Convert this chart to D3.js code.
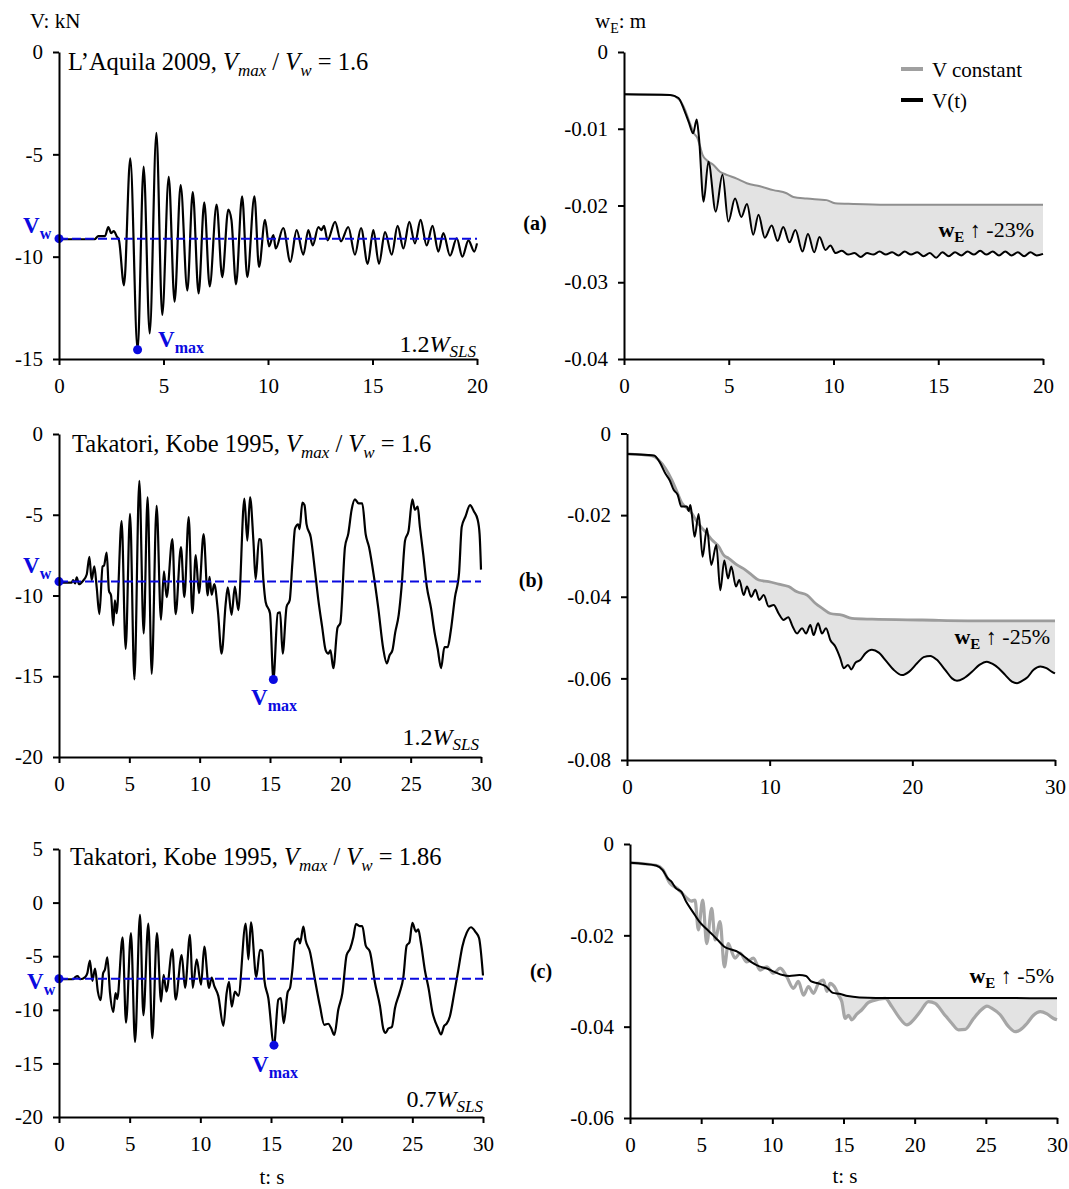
<!DOCTYPE html>
<html>
<head>
<meta charset="utf-8">
<script src="https://cdn.jsdelivr.net/npm/d3@7"></script>
<style>
  body { margin: 0; background: #fff; }
  svg { display: block; }
</style>
</head>
<body>
<svg id="chart" width="1069" height="1189"></svg>
<script>
// ---------- tick values ----------
const timeTicks20 = [0, 5, 10, 15, 20];
const timeTicks30 = [0, 5, 10, 15, 20, 25, 30];
const timeTicks30coarse = [0, 10, 20, 30];
const shearTicksA = [0, -5, -10, -15];
const shearTicksB = [0, -5, -10, -15, -20];
const shearTicksC = [5, 0, -5, -10, -15, -20];
const settleTicksA = [0, -0.01, -0.02, -0.03, -0.04];
const settleTicksB = [0, -0.02, -0.04, -0.06, -0.08];
const settleTicksC = [0, -0.02, -0.04, -0.06];

// ---------- shear force histories [t (s), V (kN)] ----------
const aquilaShear = [[0,-9.15],[1.7,-9.15],[1.88,-9.0],[2.2,-9.0],[2.36,-8.55],[2.5,-8.85],[2.62,-8.75],[2.76,-9.0],[2.87,-9.2],[3.11,-11.4],[3.41,-5.2],[3.76,-14.55],[4.05,-5.6],[4.34,-13.75],[4.66,-3.95],[4.94,-12.85],[5.25,-6.1],[5.53,-12.2],[5.82,-6.5],[6.14,-11.65],[6.4,-6.85],[6.68,-11.8],[6.95,-7.35],[7.21,-11.45],[7.54,-7.45],[7.81,-11.0],[8.1,-7.7],[8.25,-8.2],[8.47,-11.35],[8.76,-7.05],[9.01,-11.0],[9.35,-7.05],[9.57,-10.5],[9.86,-8.2],[10.05,-9.5],[10.26,-8.95],[10.37,-9.6],[10.73,-8.6],[11.07,-10.25],[11.37,-8.7],[11.69,-9.9],[11.93,-8.7],[12.14,-9.45],[12.41,-8.55],[12.55,-8.7],[12.68,-8.5],[12.85,-9.2],[13.21,-8.3],[13.49,-9.25],[13.84,-8.55],[14.16,-9.9],[14.45,-8.6],[14.77,-10.35],[15.04,-8.7],[15.31,-10.35],[15.6,-8.8],[15.92,-9.9],[16.2,-8.5],[16.48,-9.6],[16.76,-8.3],[17.03,-9.35],[17.3,-8.2],[17.59,-9.45],[17.87,-8.5],[18.15,-9.75],[18.39,-8.85],[18.71,-9.95],[19.03,-9.1],[19.3,-10.0],[19.59,-9.2],[19.87,-9.75],[20,-9.35]];

const kobeShear = [[0,-9.2],[0.9,-9.2],[1.0,-9.05],[1.15,-9.25],[1.26,-8.88],[1.42,-9.3],[1.7,-9.1],[1.97,-8.7],[2.16,-7.6],[2.32,-9.05],[2.51,-8.2],[2.68,-9.5],[2.87,-11.15],[3.1,-8.2],[3.2,-8.15],[3.39,-7.35],[3.55,-9.7],[3.7,-10.0],[3.86,-11.85],[3.97,-10.3],[4.1,-11.1],[4.45,-5.4],[4.74,-13.3],[5.05,-4.95],[5.36,-15.2],[5.71,-2.9],[6.02,-12.35],[6.3,-3.9],[6.59,-14.85],[6.94,-4.45],[7.25,-11.5],[7.46,-8.5],[7.65,-10.1],[8.06,-6.5],[8.29,-11.15],[8.67,-7.0],[8.91,-10.1],[9.22,-5.15],[9.48,-11.1],[9.72,-7.5],[9.95,-9.85],[10.28,-6.2],[10.57,-10.0],[10.7,-8.85],[10.85,-9.95],[11.04,-9.3],[11.3,-11.0],[11.56,-13.6],[11.85,-10.5],[12.0,-9.5],[12.27,-11.2],[12.5,-9.45],[12.75,-10.9],[13.18,-4.0],[13.39,-6.6],[13.58,-3.9],[13.82,-6.6],[13.98,-9.0],[14.22,-6.5],[14.35,-6.55],[14.53,-9.05],[14.69,-10.4],[15.0,-11.1],[15.24,-15.2],[15.55,-11.1],[15.72,-11.05],[15.9,-13.6],[16.18,-10.7],[16.4,-10.3],[16.59,-8.0],[16.78,-5.85],[17.0,-5.6],[17.1,-5.9],[17.3,-4.25],[17.45,-4.4],[17.6,-5.6],[17.9,-6.4],[18.2,-8.5],[18.44,-10.3],[18.7,-11.9],[18.96,-13.4],[19.15,-13.6],[19.3,-13.4],[19.5,-14.5],[19.8,-12.0],[20.0,-11.7],[20.33,-7.0],[20.57,-6.15],[20.8,-4.7],[21.04,-4.05],[21.3,-4.3],[21.56,-4.3],[21.8,-6.2],[22.04,-7.0],[22.4,-8.9],[22.7,-10.8],[23.05,-13.3],[23.3,-14.2],[23.5,-13.7],[23.7,-13.4],[23.9,-12.3],[24.15,-11.2],[24.35,-9.5],[24.6,-6.6],[24.85,-6.0],[25.12,-4.05],[25.3,-4.7],[25.5,-4.5],[25.65,-5.7],[25.9,-7.5],[26.15,-9.45],[26.45,-10.8],[26.7,-12.3],[26.92,-13.3],[27.16,-14.5],[27.4,-13.2],[27.63,-13.2],[27.85,-12.2],[28.15,-10.1],[28.44,-8.6],[28.63,-5.75],[28.9,-5.1],[29.22,-4.4],[29.5,-4.8],[29.76,-5.3],[29.9,-6.2],[30.0,-8.4]];

const kobeLightShear = [[0,-7.15],[1.0,-7.15],[1.15,-6.95],[1.32,-6.85],[1.5,-7.15],[1.85,-6.95],[2.0,-6.6],[2.19,-5.4],[2.36,-7.3],[2.55,-6.15],[2.75,-8.3],[2.95,-9.1],[3.12,-6.6],[3.25,-6.25],[3.42,-5.1],[3.61,-8.45],[3.84,-10.2],[4.0,-8.45],[4.12,-9.0],[4.5,-3.25],[4.74,-11.2],[5.09,-2.85],[5.38,-13.0],[5.73,-1.15],[5.97,-10.5],[6.32,-1.95],[6.6,-12.65],[6.93,-2.85],[7.22,-9.25],[7.4,-6.75],[7.6,-8.3],[8.02,-4.35],[8.25,-9.05],[8.68,-4.9],[8.92,-7.95],[9.27,-3.0],[9.46,-7.95],[9.74,-5.3],[10.05,-7.65],[10.28,-4.1],[10.61,-7.95],[10.8,-7.0],[10.99,-7.8],[11.27,-8.7],[11.63,-11.5],[11.86,-8.45],[12.03,-7.4],[12.22,-9.7],[12.45,-8.3],[12.69,-8.7],[13.21,-1.95],[13.4,-5.3],[13.58,-1.85],[13.96,-6.95],[14.22,-4.4],[14.38,-4.5],[14.53,-7.2],[14.81,-8.9],[15.21,-13.3],[15.52,-9.05],[15.7,-8.9],[15.9,-11.25],[16.18,-8.35],[16.35,-7.95],[16.51,-6.3],[16.7,-3.65],[16.95,-3.35],[17.05,-3.8],[17.29,-2.25],[17.45,-3.5],[17.76,-4.6],[18.11,-7.2],[18.47,-9.7],[18.77,-11.4],[19.05,-11.3],[19.25,-11.7],[19.48,-12.35],[19.76,-10.0],[20.05,-8.45],[20.35,-4.9],[20.6,-4.3],[20.83,-3.2],[21.01,-2.0],[21.3,-2.2],[21.46,-2.2],[21.7,-4.0],[22.0,-4.6],[22.36,-7.5],[22.71,-9.65],[22.95,-11.8],[23.11,-12.15],[23.3,-11.75],[23.55,-11.6],[23.77,-9.85],[24.1,-8.4],[24.36,-7.0],[24.6,-4.0],[24.8,-3.7],[25.0,-1.9],[25.25,-2.7],[25.42,-2.5],[25.6,-3.7],[25.9,-6.4],[26.15,-8.0],[26.42,-10.2],[26.65,-11.2],[26.8,-11.65],[27.03,-12.3],[27.25,-11.5],[27.43,-11.3],[27.66,-10.6],[27.97,-8.4],[28.25,-6.3],[28.54,-4.1],[28.85,-2.8],[29.15,-2.3],[29.48,-2.75],[29.72,-3.3],[30.0,-6.8]];

// static shear V_w and peak shear V_max for each record
const aquilaVw = -9.12, aquilaPeak = [3.76, -14.55];
const kobeVw = -9.14, kobePeak = [15.24, -15.2];
const kobeLightVw = -7.1, kobeLightPeak = [15.21, -13.3];

// ---------- settlement histories [t (s), w_E (m)] ----------
const aquilaConst = [[0,-0.0055],[2.2,-0.0056],[2.67,-0.0063],[2.91,-0.0075],[3.15,-0.0093],[3.34,-0.0106],[3.5,-0.0112],[3.63,-0.0123],[3.75,-0.0134],[3.95,-0.0141],[4.26,-0.0147],[4.58,-0.0156],[4.9,-0.0160],[5.38,-0.0165],[5.86,-0.0171],[6.49,-0.0175],[7.13,-0.0180],[7.76,-0.0184],[8.08,-0.0189],[8.72,-0.0191],[9.67,-0.0193],[10.07,-0.0197],[10.95,-0.0198],[12.5,-0.0199],[15.7,-0.0199],[20,-0.0199]];
const aquilaVar = [[0,-0.0055],[2.2,-0.0056],[2.6,-0.0060],[2.85,-0.0074],[3.1,-0.0092],[3.3,-0.0106],[3.47,-0.0088],[3.58,-0.0112],[3.8,-0.0195],[4.03,-0.0143],[4.38,-0.0208],[4.7,-0.0160],[4.98,-0.0221],[5.3,-0.0191],[5.6,-0.0215],[5.87,-0.0198],[6.17,-0.0238],[6.42,-0.0212],[6.72,-0.0242],[7.05,-0.0226],[7.33,-0.0246],[7.6,-0.0228],[7.9,-0.0248],[8.18,-0.0232],[8.52,-0.0260],[8.78,-0.0237],[9.08,-0.0261],[9.33,-0.0241],[9.62,-0.0258],[9.85,-0.0252],[10.1,-0.0262],[10.4,-0.0259],[10.7,-0.0264],[11.0,-0.0262],[11.3,-0.0267],[11.6,-0.0262],[11.9,-0.0264],[12.2,-0.0260],[12.5,-0.0264],[12.8,-0.0261],[13.1,-0.0265],[13.4,-0.0260],[13.7,-0.0264],[14.0,-0.0261],[14.3,-0.0266],[14.6,-0.0262],[14.9,-0.0268],[15.2,-0.0261],[15.5,-0.0266],[15.8,-0.0261],[16.1,-0.0265],[16.4,-0.0260],[16.7,-0.0264],[17.0,-0.0259],[17.3,-0.0264],[17.6,-0.0260],[17.9,-0.0265],[18.2,-0.0260],[18.5,-0.0265],[18.8,-0.0261],[19.1,-0.0266],[19.4,-0.0261],[19.7,-0.0265],[20,-0.0263]];

const kobeConst = [[0,-0.0050],[1.75,-0.0055],[2.22,-0.0065],[2.69,-0.0085],[3.15,-0.0114],[3.5,-0.0142],[3.86,-0.0171],[4.2,-0.0183],[4.56,-0.0196],[4.9,-0.0216],[5.26,-0.0232],[5.6,-0.0245],[5.96,-0.0261],[6.43,-0.0277],[6.78,-0.0298],[7.13,-0.0306],[7.71,-0.0322],[8.29,-0.0334],[8.76,-0.0347],[9.23,-0.0359],[9.93,-0.0363],[10.63,-0.0369],[11.33,-0.0375],[11.92,-0.0388],[12.62,-0.0396],[13.2,-0.0416],[13.67,-0.0428],[14.25,-0.0441],[15.07,-0.0445],[15.77,-0.0453],[17.17,-0.0455],[20.68,-0.0457],[25.35,-0.0459],[30,-0.0459]];
const kobeVar = [[0,-0.0050],[1.9,-0.0054],[2.27,-0.0069],[2.69,-0.0098],[3.0,-0.0115],[3.27,-0.0138],[3.55,-0.0150],[3.81,-0.0179],[4.2,-0.0179],[4.32,-0.0190],[4.44,-0.0175],[4.55,-0.0200],[4.74,-0.0253],[5.02,-0.0197],[5.3,-0.0302],[5.6,-0.0232],[5.91,-0.0322],[6.26,-0.0273],[6.54,-0.0384],[6.82,-0.0311],[7.08,-0.0355],[7.31,-0.0326],[7.64,-0.0375],[7.87,-0.0359],[8.18,-0.0396],[8.41,-0.0375],[8.71,-0.0400],[9.0,-0.0383],[9.28,-0.0408],[9.58,-0.0396],[9.93,-0.0424],[10.28,-0.0420],[10.63,-0.0441],[10.98,-0.0457],[11.3,-0.0450],[11.61,-0.0473],[11.92,-0.0490],[12.27,-0.0477],[12.55,-0.0490],[12.85,-0.0469],[13.08,-0.0494],[13.39,-0.0465],[13.67,-0.0490],[13.95,-0.0477],[14.25,-0.0506],[14.6,-0.0522],[14.95,-0.0551],[15.19,-0.0575],[15.49,-0.0567],[15.72,-0.0578],[16.0,-0.0562],[16.35,-0.0555],[16.7,-0.0539],[17.17,-0.0530],[17.65,-0.0537],[18.2,-0.0559],[18.69,-0.0579],[19.28,-0.0592],[19.76,-0.0584],[20.33,-0.0563],[20.79,-0.0548],[21.26,-0.0545],[21.7,-0.0554],[22.3,-0.0579],[22.78,-0.0600],[23.13,-0.0606],[23.6,-0.0600],[24.18,-0.0584],[24.7,-0.0567],[25.23,-0.0559],[25.6,-0.0564],[26.05,-0.0575],[26.52,-0.0592],[26.98,-0.0608],[27.34,-0.0612],[27.7,-0.0606],[28.05,-0.0598],[28.5,-0.0579],[28.97,-0.0571],[29.4,-0.0575],[29.79,-0.0584],[30,-0.0588]];

const kobeLightConst = [[0,-0.0041],[1.9,-0.0047],[2.3,-0.0056],[2.81,-0.0086],[3.3,-0.0097],[3.6,-0.0106],[3.98,-0.0118],[4.3,-0.0125],[4.57,-0.0123],[4.8,-0.0188],[5.11,-0.0123],[5.39,-0.0218],[5.74,-0.0141],[5.98,-0.0210],[6.33,-0.0170],[6.63,-0.0269],[6.91,-0.0218],[7.1,-0.0232],[7.38,-0.0250],[7.73,-0.0239],[8.2,-0.0258],[8.67,-0.0250],[9.14,-0.0276],[9.61,-0.0269],[10.08,-0.0283],[10.55,-0.0272],[11.0,-0.0290],[11.48,-0.0316],[11.83,-0.0301],[12.19,-0.0331],[12.54,-0.0312],[12.89,-0.0327],[13.24,-0.0305],[13.59,-0.0298],[13.83,-0.0323],[14.06,-0.0305],[14.35,-0.0312],[14.65,-0.0331],[14.88,-0.0345],[15.12,-0.0382],[15.35,-0.0375],[15.58,-0.0385],[15.95,-0.0372],[16.29,-0.0363],[16.76,-0.0347],[17.46,-0.0340],[17.93,-0.0338],[18.4,-0.0356],[18.87,-0.0378],[19.45,-0.0396],[19.92,-0.0385],[20.39,-0.0367],[20.97,-0.0345],[21.44,-0.0349],[22.03,-0.0371],[22.62,-0.0393],[23.08,-0.0407],[23.55,-0.0406],[24.14,-0.0382],[24.65,-0.0364],[25.08,-0.0355],[25.43,-0.0360],[26.01,-0.0374],[26.6,-0.0400],[27.07,-0.0411],[27.42,-0.0407],[27.89,-0.0393],[28.35,-0.0375],[28.83,-0.0367],[29.3,-0.0372],[29.76,-0.0382],[30,-0.0385]];
const kobeLightVar = [[0,-0.0041],[1.83,-0.0047],[2.3,-0.0057],[2.65,-0.0075],[2.9,-0.0082],[3.23,-0.0097],[3.5,-0.0102],[3.59,-0.0104],[3.94,-0.0126],[4.4,-0.0148],[4.87,-0.0170],[5.34,-0.0185],[5.81,-0.0199],[6.28,-0.0214],[6.63,-0.0225],[7.1,-0.0231],[7.57,-0.0236],[8.04,-0.0247],[8.5,-0.0258],[9.09,-0.0268],[9.56,-0.0272],[10.15,-0.0280],[10.73,-0.0287],[11.2,-0.0289],[11.9,-0.0287],[12.37,-0.0289],[12.73,-0.0301],[13.2,-0.0305],[13.78,-0.0312],[14.25,-0.0326],[14.72,-0.0328],[15.3,-0.0333],[16.12,-0.0336],[17.3,-0.0337],[19.64,-0.0337],[23.15,-0.0337],[30,-0.0338]];

// ---------- drawing ----------
const FONT = '"Liberation Serif", "Times New Roman", serif';
const BLUE = "#0a0ae0";
const svg = d3.select("#chart");

function makePanel(cfg) {
  const x = d3.scaleLinear().domain([0, cfg.tMax]).range([cfg.x0, cfg.x1]);
  const y = d3.scaleLinear().domain(cfg.yDomain).range([cfg.yBot, cfg.yTop]);
  return { x, y, cfg };
}

function drawAxes(p, xTicks, yTicks) {
  const c = p.cfg;
  const gx = svg.append("g").attr("transform", `translate(0,${c.yBot})`)
    .call(d3.axisBottom(p.x).tickValues(xTicks).tickFormat(d => String(d))
      .tickSize(6).tickPadding(13).tickSizeOuter(0));
  const gy = svg.append("g").attr("transform", `translate(${c.x0},0)`)
    .call(d3.axisLeft(p.y).tickValues(yTicks).tickFormat(d => String(d))
      .tickSize(6).tickPadding(10).tickSizeOuter(0));
  [gx, gy].forEach(g => {
    g.attr("font-family", FONT).attr("font-size", 21);
    g.selectAll("path.domain").attr("stroke", "#000").attr("stroke-width", 2);
    g.selectAll(".tick line").attr("stroke", "#000").attr("stroke-width", 2);
    g.selectAll(".tick text").attr("fill", "#000");
  });
}

const smooth = p => d3.line().x(d => p.x(d[0])).y(d => p.y(d[1])).curve(d3.curveMonotoneX);

function drawLine(p, data, color, width) {
  svg.append("path").attr("d", smooth(p)(data))
    .attr("fill", "none").attr("stroke", color).attr("stroke-width", width)
    .attr("stroke-linejoin", "round");
}

// shaded band between two settlement curves from time t0 onwards
function drawBand(p, a, b, t0) {
  const upper = a.filter(d => d[0] >= t0);
  const lower = b.filter(d => d[0] >= t0).slice().reverse();
  const gen = smooth(p);
  const d = gen(upper) + gen(lower).replace(/^M/, "L") + "Z";
  svg.append("path").attr("d", d).attr("fill", "#e3e3e3").attr("stroke", "none");
}

// text with italic / bold / subscript runs
function richText(x, y, parts, o = {}) {
  const t = svg.append("text").attr("x", x).attr("y", y)
    .attr("font-family", FONT).attr("font-size", o.size || 22)
    .attr("fill", o.fill || "#000").attr("text-anchor", o.anchor || "start")
    .attr("font-weight", o.bold ? "bold" : "normal");
  let shift = 0;
  parts.forEach(part => {
    const s = t.append("tspan").text(part.t);
    const target = part.sub ? (o.subDy || 6) : 0;
    if (target !== shift) { s.attr("dy", target - shift); shift = target; }
    if (part.sub) s.attr("font-size", o.subSize || 15);
    if (part.i) s.attr("font-style", "italic");
    if (part.b !== undefined) s.attr("font-weight", part.b ? "bold" : "normal");
  });
  return t;
}

function shearPanel(p, data, vw, peak, xTicks, yTicks, texts) {
  const c = p.cfg;
  drawLine(p, data, "#000", 2.2);
  svg.append("line")
    .attr("x1", p.x(0)).attr("x2", p.x(c.tMax))
    .attr("y1", p.y(vw)).attr("y2", p.y(vw))
    .attr("stroke", BLUE).attr("stroke-width", 2).attr("stroke-dasharray", "9,4");
  svg.append("circle").attr("cx", p.x(0)).attr("cy", p.y(vw)).attr("r", 4.5).attr("fill", BLUE);
  svg.append("circle").attr("cx", p.x(peak[0])).attr("cy", p.y(peak[1])).attr("r", 4.5).attr("fill", BLUE);
  drawAxes(p, xTicks, yTicks);

  richText(texts.title[0], texts.title[1], [
    { t: texts.record }, { t: "V", i: true }, { t: "max", i: true, sub: true },
    { t: " / " }, { t: "V", i: true }, { t: "w", i: true, sub: true }, { t: " = " + texts.ratio }
  ], { size: 24.5, subSize: 17, subDy: 6 });
  richText(texts.load[0], texts.load[1], [
    { t: texts.loadFactor }, { t: "W", i: true }, { t: "SLS", i: true, sub: true }
  ], { size: 24, subSize: 17, subDy: 5, anchor: "end" });
  richText(texts.vw[0], texts.vw[1], [{ t: "V" }, { t: "w", sub: true }],
    { size: 23, subSize: 16, subDy: 6, bold: true, fill: BLUE });
  richText(texts.vmax[0], texts.vmax[1], [{ t: "V" }, { t: "max", sub: true }],
    { size: 23, subSize: 16, subDy: 6, bold: true, fill: BLUE });
}

function settlePanel(p, constData, varData, t0, constColor, constWidth, xTicks, yTicks, texts) {
  drawBand(p, constData, varData, t0);
  drawLine(p, constData, constColor, constWidth);
  drawLine(p, varData, "#000", 2);
  drawAxes(p, xTicks, yTicks);
  richText(texts.tag[0], texts.tag[1], [{ t: texts.tagText }], { size: 20, bold: true, anchor: "middle" });
  richText(texts.gain[0], texts.gain[1], [
    { t: "w", b: true }, { t: "E", b: true, sub: true }, { t: " \u2191 " + texts.gainText }
  ], { size: 22, subSize: 15, subDy: 5, anchor: "end" });
}

// ---------- panel frames ----------
const pA = makePanel({ x0: 59,  x1: 477,  yTop: 52,    yBot: 359,  tMax: 20, yDomain: [-15, 0] });
const pB = makePanel({ x0: 624, x1: 1043, yTop: 52,    yBot: 359,  tMax: 20, yDomain: [-0.04, 0] });
const pC = makePanel({ x0: 59,  x1: 481,  yTop: 434,   yBot: 757,  tMax: 30, yDomain: [-20, 0] });
const pD = makePanel({ x0: 627, x1: 1055, yTop: 433.5, yBot: 760,  tMax: 30, yDomain: [-0.08, 0] });
const pE = makePanel({ x0: 59,  x1: 483,  yTop: 849,   yBot: 1117, tMax: 30, yDomain: [-20, 5] });
const pF = makePanel({ x0: 630, x1: 1057, yTop: 844,   yBot: 1118, tMax: 30, yDomain: [-0.06, 0] });

shearPanel(pA, aquilaShear, aquilaVw, aquilaPeak, timeTicks20, shearTicksA, {
  record: "L\u2019Aquila 2009, ", ratio: "1.6", title: [68, 70],
  loadFactor: "1.2", load: [476, 352], vw: [23, 233], vmax: [158, 347]
});
shearPanel(pC, kobeShear, kobeVw, kobePeak, timeTicks30, shearTicksB, {
  record: "Takatori, Kobe 1995, ", ratio: "1.6", title: [72, 452],
  loadFactor: "1.2", load: [479, 745], vw: [23, 573], vmax: [251, 705]
});
shearPanel(pE, kobeLightShear, kobeLightVw, kobeLightPeak, timeTicks30, shearTicksC, {
  record: "Takatori, Kobe 1995, ", ratio: "1.86", title: [70, 865],
  loadFactor: "0.7", load: [483, 1107], vw: [27, 989], vmax: [252, 1072]
});

settlePanel(pB, aquilaConst, aquilaVar, 3.5, "#8f8f8f", 2, timeTicks20, settleTicksA, {
  tag: [535, 230], tagText: "(a)", gain: [1034, 237], gainText: "-23%"
});
settlePanel(pD, kobeConst, kobeVar, 6.0, "#9c9c9c", 2.8, timeTicks30coarse, settleTicksB, {
  tag: [531, 587], tagText: "(b)", gain: [1050, 644], gainText: "-25%"
});
settlePanel(pF, kobeLightConst, kobeLightVar, 14.6, "#a6a6a6", 3.2, timeTicks30, settleTicksC, {
  tag: [541, 978], tagText: "(c)", gain: [1054, 983], gainText: "-5%"
});

// ---------- legend (panel a) ----------
svg.append("line").attr("x1", 901).attr("x2", 923).attr("y1", 69).attr("y2", 69)
  .attr("stroke", "#a0a0a0").attr("stroke-width", 4);
svg.append("line").attr("x1", 901).attr("x2", 923).attr("y1", 100).attr("y2", 100)
  .attr("stroke", "#000").attr("stroke-width", 4);
richText(932, 77, [{ t: "V constant" }], { size: 21 });
richText(932, 108, [{ t: "V(t)" }], { size: 21 });

// ---------- axis titles ----------
richText(30, 28, [{ t: "V: kN" }], { size: 21 });
richText(595, 28, [{ t: "w" }, { t: "E", sub: true }, { t: ": m" }], { size: 21, subSize: 14, subDy: 5 });
richText(272, 1184, [{ t: "t: s" }], { size: 21, anchor: "middle" });
richText(845, 1183, [{ t: "t: s" }], { size: 21, anchor: "middle" });
</script>
</body>
</html>
